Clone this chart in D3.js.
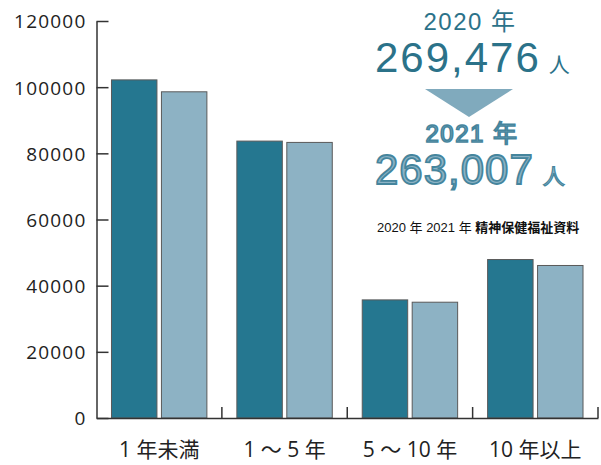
<!DOCTYPE html>
<html><head><meta charset="utf-8">
<script src="https://cdn.jsdelivr.net/npm/d3@7"></script>
<style>
html,body{margin:0;padding:0;background:#fff;}
svg{display:block;}
</style></head>
<body>
<svg id="chart" width="601" height="465"></svg>
<script>
const categories = ["1 年未満", "1 ～ 5 年", "5 ～ 10 年", "10 年以上"];
const seriesNames = ["2020", "2021"];
const values2020 = [102200, 83700, 35700, 47900];
const values2021 = [98600, 83300, 35000, 46100];
const yTicks = [0, 20000, 40000, 60000, 80000, 100000, 120000];
const total2020 = "269,476";
const total2021 = "263,007";
const sourceText = "2020 年 2021 年 ";
const sourceBold = "精神保健福祉資料";

const colors = {"2020": "#257790", "2021": "#8db2c4"};
const svg = d3.select("#chart");
const mLeft = 96.5, mRight = 598, mTop = 21, mBottom = 418;

const x = d3.scaleBand().domain(categories).range([mLeft, mRight]).paddingInner(0).paddingOuter(0);
const xs = d3.scaleBand().domain(seriesNames).range([0, x.bandwidth()]).paddingInner(0.09).paddingOuter(0.3);
const y = d3.scaleLinear().domain([0, 120000]).range([mBottom, mTop]);

const data = categories.map((c, i) => ({cat: c, vals: [{s: "2020", v: values2020[i]}, {s: "2021", v: values2021[i]}]}));

// bars
const g = svg.append("g");
g.selectAll("g.grp").data(data).join("g").attr("class", "grp")
  .attr("transform", d => `translate(${x(d.cat)},0)`)
  .selectAll("rect").data(d => d.vals).join("rect")
  .attr("x", d => xs(d.s))
  .attr("y", d => y(d.v))
  .attr("width", xs.bandwidth())
  .attr("height", d => y(0) - y(d.v))
  .attr("fill", d => colors[d.s])
  .attr("stroke", "#5a5a5a")
  .attr("stroke-width", 1);

// y axis
const yAxis = d3.axisLeft(y).tickValues(yTicks).tickFormat(d3.format("d")).tickSizeInner(-12).tickSizeOuter(0).tickPadding(10);
const ya = svg.append("g").attr("transform", `translate(${mLeft},0)`).call(yAxis);
ya.select(".domain").attr("stroke", "#333").attr("stroke-width", 1.5);
ya.selectAll(".tick line").attr("stroke", "#333").attr("stroke-width", 1.5);
ya.selectAll(".tick text").attr("font-family", "'Open Sans', sans-serif").attr("font-size", 19)
  .attr("letter-spacing", "1.2px").attr("fill", "#222").attr("dy", "0.36em");

// x axis
const xAxis = d3.axisBottom(x).tickSize(0).tickPadding(24);
const xa = svg.append("g").attr("transform", `translate(0,${mBottom})`).call(xAxis);
xa.select(".domain").attr("stroke", "#333").attr("stroke-width", 1.5);
xa.selectAll(".tick text").attr("font-family", "'Open Sans', 'Noto Sans CJK JP', sans-serif").attr("font-size", 21).attr("fill", "#222");
// boundary ticks
svg.append("g").selectAll("line").data(categories).join("line")
  .attr("x1", d => x(d) + x.bandwidth()).attr("x2", d => x(d) + x.bandwidth())
  .attr("y1", mBottom).attr("y2", mBottom - 11)
  .attr("stroke", "#333").attr("stroke-width", 1.5);

// annotation block
const cx = 470;
const ann = svg.append("g").attr("font-family", "'Liberation Sans', Arial, 'Noto Sans CJK JP', sans-serif");
ann.append("text").attr("x", cx).attr("y", 30).attr("text-anchor", "middle")
  .attr("font-size", 24).attr("fill", "#2b7289").attr("letter-spacing", "1.5px").text("2020 年");
const t1 = ann.append("text").attr("x", 375).attr("y", 71.5).attr("fill", "#2b7289");
t1.append("tspan").attr("font-size", 42).attr("letter-spacing", "2px").text(total2020);
t1.append("tspan").attr("font-size", 21).attr("dx", 8).text("人");

ann.append("path").attr("d", d3.line()([[425, 89], [513, 89], [469, 117]]) + "Z").attr("fill", "#80aabd");

ann.append("text").attr("x", cx + 2).attr("y", 142).attr("text-anchor", "middle")
  .attr("font-size", 24).attr("fill", "#8cb3c5").attr("stroke", "#45859d").attr("stroke-width", 1.6)
  .attr("letter-spacing", "1.5px").text("2021 年");
const t2 = ann.append("text").attr("x", 375).attr("y", 183.5).attr("fill", "#8cb3c5").attr("stroke", "#45859d").attr("stroke-width", 1.8);
t2.append("tspan").attr("font-size", 42).attr("letter-spacing", "1px").text(total2021);
t2.append("tspan").attr("font-size", 22).attr("dx", 9).attr("stroke-width", 1.2).text("人");

const src = ann.append("text").attr("x", 377).attr("y", 232).attr("font-size", 13).attr("fill", "#111");
src.append("tspan").text(sourceText);
src.append("tspan").attr("font-weight", "bold").attr("font-family", "'Noto Sans CJK JP', sans-serif").text(sourceBold);
</script>
</body></html>
